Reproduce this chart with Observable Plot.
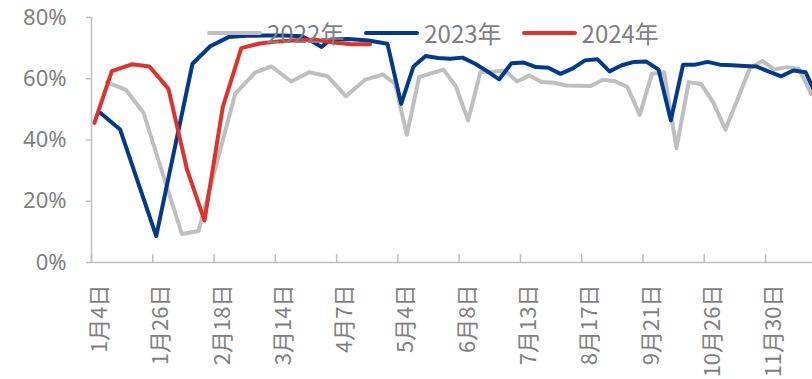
<!DOCTYPE html>
<html><head><meta charset="utf-8">
<script src="https://cdn.jsdelivr.net/npm/d3@7"></script>
<script src="https://cdn.jsdelivr.net/npm/@observablehq/plot@0.6"></script>
<style>
body{margin:0;background:#fff;}
#wrap{position:relative;width:812px;height:379px;font-family:"Noto Sans CJK SC","Noto Sans",sans-serif;}
#legend{position:absolute;left:207px;top:17px;display:flex;align-items:center;font-size:24px;color:#7f7f7f;line-height:32px;}
#legend .it{display:flex;align-items:center;margin-right:20px;}
#legend .sw{display:inline-block;width:55px;height:4px;border-radius:2px;margin-right:5px;}
</style></head>
<body><div id="wrap"><div id="chart"></div><div id="legend"></div></div>
<script>
const seriesNames = ["2022年","2023年","2024年"];
const seriesColors = ["#bfbfbf","#003a8c","#e0312a"];
const tickPos = [0,5,10,15,20,25,30,35,40,45,50,55];
const tickLabels = ["1月4日","1月26日","2月18日","3月14日","4月7日","5月4日","6月8日","7月13日","8月17日","9月21日","10月26日","11月30日"];
const yTicks = [0,20,40,60,80];

const x2022 = [1.25,2.80,4.24,7.37,8.73,11.73,13.36,14.69,16.30,17.76,19.28,20.75,22.33,23.77,24.78,25.73,26.73,27.73,28.73,29.73,30.73,31.73,32.73,33.73,34.73,35.73,36.73,37.73,38.73,39.73,40.73,41.73,42.73,43.73,44.73,45.73,46.73,47.73,48.73,49.73,50.73,51.73,52.73,53.73,54.73,55.73,56.73,57.73,58.73];
const v2022 = [58.9,56.4,48.9,9.3,10.3,55.1,62.1,64.0,59.1,62.1,60.8,54.3,59.7,61.4,58.3,41.7,60.5,61.8,63.0,57.5,46.4,62.1,62.3,62.7,59.1,61.1,58.9,58.7,57.8,57.7,57.6,59.7,59.2,57.3,48.2,61.6,62.1,37.3,58.9,58.3,52.3,43.4,53.5,63.5,65.8,63.0,63.8,63.2,55.0];

const x2023 = [0.71,2.34,5.28,8.24,9.69,11.18,12.65,14.12,15.67,17.14,17.95,18.77,19.50,20.97,22.60,24.15,25.27,26.27,27.27,28.27,29.27,30.27,31.27,32.27,33.27,34.27,35.27,36.27,37.27,38.27,39.27,40.27,41.27,42.27,43.27,44.27,45.27,46.27,47.27,48.27,49.27,50.27,51.27,52.27,53.27,54.27,55.27,56.27,57.27,58.27,59.27];
const v2023 = [48.9,43.4,8.6,64.9,70.6,73.6,74.0,74.1,74.1,73.9,72.3,70.4,72.8,73.0,72.5,71.4,51.8,64.0,67.4,66.8,66.5,66.9,65.0,62.5,59.8,65.1,65.3,63.8,63.6,61.6,63.4,66.0,66.4,62.4,64.4,65.5,65.6,63.0,46.4,64.6,64.6,65.5,64.6,64.4,64.2,64.0,62.3,60.8,62.7,62.1,53.5];

const x2024 = [0.24,1.66,3.29,4.73,6.28,7.78,9.22,10.71,12.22,13.71,15.22,16.73,18.20,19.75,21.22,22.73];
const v2024 = [45.6,62.5,64.7,64.0,56.7,30.6,13.7,50.7,70.0,71.5,72.2,72.6,72.8,71.8,71.3,71.3];

const rows = [];
[[x2022,v2022],[x2023,v2023],[x2024,v2024]].forEach(([xs,vs],s)=>{
  xs.forEach((x,i)=>rows.push({series:seriesNames[s],x,v:vs[i]}));
});

const axisGray = "#bfbfbf", textGray = "#7f7f7f";
const chart = Plot.plot({
  width: 812, height: 379,
  marginLeft: 91, marginRight: 0, marginTop: 17, marginBottom: 117,
  style: {fontFamily: '"Noto Sans CJK SC","Noto Sans",sans-serif', background: "transparent"},
  x: {domain: [0, 58.83]},
  y: {domain: [0, 80]},
  color: {domain: seriesNames, range: seriesColors},
  marks: [
    Plot.ruleY([0], {stroke: axisGray, strokeWidth: 1.5}),
    Plot.ruleX([0], {stroke: axisGray, strokeWidth: 1.5}),
    Plot.ruleX(tickPos, {stroke: axisGray, strokeWidth: 1.5, insetTop: 237}),
    Plot.axisY({ticks: yTicks, tickFormat: d => d + "%", tickSize: 5, tickPadding: 20, fontSize: 22, fontFamily: '"Noto Sans",sans-serif', stroke: axisGray, strokeWidth: 1.5, fill: textGray, label: null}),
    Plot.axisX({ticks: tickPos, tickFormat: d => tickLabels[tickPos.indexOf(d)], tickRotate: -90, tickSize: 0, tickPadding: 22, dx: 8.5, fontSize: 22, fill: textGray, label: null}),
    Plot.line(rows, {x: "x", y: "v", z: "series", stroke: "series", strokeWidth: 4, strokeLinejoin: "round", strokeLinecap: "round", clip: true})
  ]
});
document.getElementById("chart").appendChild(chart);

const lg = document.getElementById("legend");
seriesNames.forEach((n,i)=>{
  const it = document.createElement("div"); it.className = "it";
  const sw = document.createElement("span"); sw.className = "sw"; sw.style.background = seriesColors[i];
  const t = document.createElement("span"); t.textContent = n;
  it.appendChild(sw); it.appendChild(t); lg.appendChild(it);
});
</script>
</body></html>
